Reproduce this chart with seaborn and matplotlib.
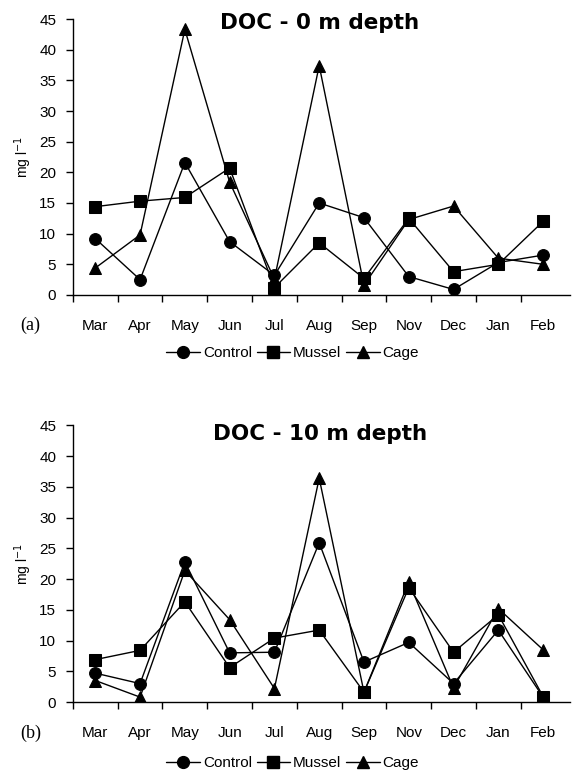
import matplotlib
matplotlib.use("Agg")
import matplotlib.pyplot as plt
import seaborn as sns
import pandas as pd
from matplotlib.lines import Line2D

months = ["Mar", "Apr", "May", "Jun", "Jul", "Aug", "Sep", "Nov", "Dec", "Jan", "Feb"]
series_names = ["Control", "Mussel", "Cage"]

# DOC - 0 m depth
control_0 = [9.2, 2.5, 21.6, 8.7, 3.2, 15.0, 12.6, 3.0, 0.9, 5.3, 6.5]
mussel_0 = [14.4, 15.3, 15.9, 20.7, 1.2, 8.5, 2.7, 12.5, 3.8, 5.0, 12.0]
cage_0 = [4.4, 9.8, 43.3, 18.4, 2.6, 37.4, 1.6, 12.3, 14.5, 6.0, 5.0]

# DOC - 10 m depth
control_10 = [4.7, 3.0, 22.8, 8.0, 8.1, 25.9, 6.5, 9.7, 3.0, 11.7, 0.8]
mussel_10 = [6.9, 8.4, 16.3, 5.6, 10.4, 11.7, 1.6, 18.6, 8.1, 14.2, 0.9]
cage_10 = [3.5, 0.8, 21.4, 13.4, 2.2, 36.4, 1.6, 19.5, 2.3, 15.2, 8.5]

titles = ["DOC - 0 m depth", "DOC - 10 m depth"]
panel_labels = ["(a)", "(b)"]
yticks = [0, 5, 10, 15, 20, 25, 30, 35, 40, 45]

sns.set_style("ticks")
plt.rcParams["font.family"] = ["Liberation Sans", "DejaVu Sans"]
plt.rcParams.update({"text.color": "black", "axes.labelcolor": "black",
                     "xtick.color": "black", "ytick.color": "black",
                     "axes.edgecolor": "black"})

def make_df(c, m, g):
    rows = []
    for name, vals in zip(series_names, [c, m, g]):
        for mo, v in zip(months, vals):
            rows.append({"Month": mo, "Series": name, "DOC": v})
    df = pd.DataFrame(rows)
    df["x"] = df["Month"].map({m_: i for i, m_ in enumerate(months)})
    return df

fig = plt.figure(figsize=(5.74, 7.73), dpi=100)
ax_pos = [[0.127, 0.6184, 0.866, 0.357], [0.127, 0.0918, 0.866, 0.358]]
data = [make_df(control_0, mussel_0, cage_0), make_df(control_10, mussel_10, cage_10)]
markers = {"Control": "o", "Mussel": "s", "Cage": "^"}
legend_y = [0.543, 0.013]
label_y = [0.579, 0.051]

for k in range(2):
    ax = fig.add_axes(ax_pos[k])
    sns.lineplot(data=data[k], x="x", y="DOC", hue="Series", style="Series",
                 palette={n: "black" for n in series_names},
                 markers=markers, dashes=False, markersize=8.5,
                 markeredgecolor="black", linewidth=1.0, ax=ax, legend=False,
                 sort=False)
    ax.set_xlim(-0.5, 10.6)
    ax.set_ylim(0, 45)
    ax.set_yticks(yticks)
    ax.set_xticks([i - 0.5 for i in range(len(months))])
    ax.set_xticklabels([])
    ax.set_xticks(range(len(months)), minor=True)
    ax.set_xticklabels(months, minor=True)
    ax.tick_params(axis="x", which="major", direction="out", length=5, width=1, colors="black")
    ax.tick_params(axis="x", which="minor", length=0, pad=17, labelsize=11, colors="black")
    ax.tick_params(axis="y", direction="out", length=5, width=1, labelsize=11, pad=7, colors="black")
    ax.set_xlabel("")
    ax.set_ylabel("mg l$^{-1}$", fontsize=10, labelpad=4, color="black")
    for s in ["top", "right"]:
        ax.spines[s].set_visible(False)
    for s in ["left", "bottom"]:
        ax.spines[s].set_linewidth(1.0)
        ax.spines[s].set_color("black")
    ax.text(0.497, 0.985 if k == 0 else 0.97, titles[k], transform=ax.transAxes,
            ha="center", va="center", fontsize=15.5, fontweight="bold",
            family=["DejaVu Sans"], color="black")
    fig.text(0.035, label_y[k], panel_labels[k], fontsize=13, color="black",
             family=["Liberation Serif", "DejaVu Serif"], ha="left", va="center")
    handles = [Line2D([], [], color="black", marker=markers[n], markersize=8.5,
                      linewidth=1.0, label=n) for n in series_names]
    fig.legend(handles=handles, loc="center", bbox_to_anchor=(0.51, legend_y[k]),
               ncol=3, frameon=False, fontsize=11, handlelength=2.2,
               handletextpad=0.2, columnspacing=0.3, labelcolor="black")

fig.savefig("out.png", dpi=100)
